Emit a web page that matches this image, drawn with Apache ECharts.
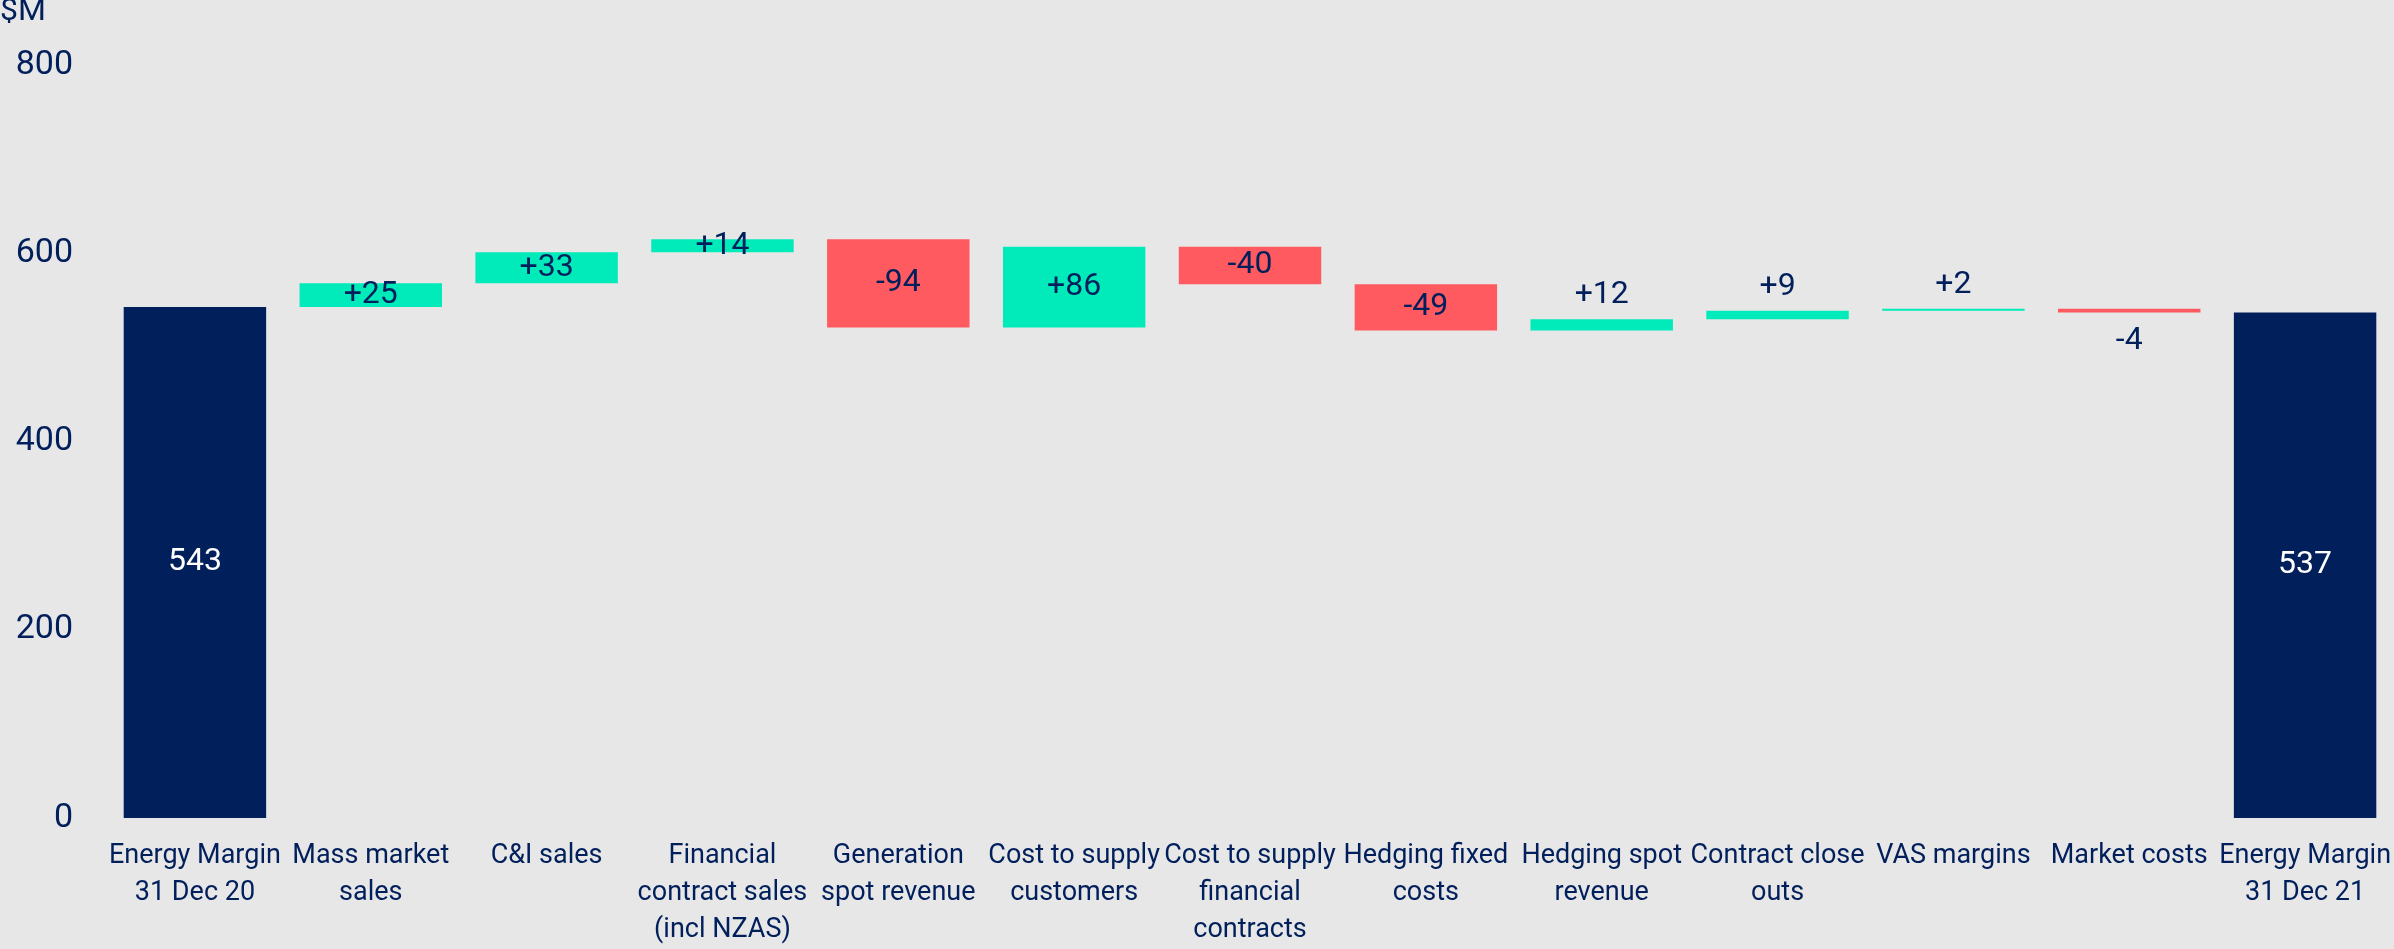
<!DOCTYPE html>
<html>
<head>
<meta charset="utf-8">
<script src="https://cdn.jsdelivr.net/npm/echarts@6/dist/echarts.min.js"></script>
<style>
  html, body { margin: 0; padding: 0; background: #e7e7e7; }
  #bridge { width: 2394px; height: 949px; }
</style>
</head>
<body>
<div id="bridge"></div>
<script>
  // data
  const categories = [
    'Energy Margin\n31 Dec 20', 'Mass market\nsales', 'C&I sales',
    'Financial\ncontract sales\n(incl NZAS)', 'Generation\nspot revenue',
    'Cost to supply\ncustomers', 'Cost to supply\nfinancial\ncontracts',
    'Hedging fixed\ncosts', 'Hedging spot\nrevenue', 'Contract close\nouts',
    'VAS margins', 'Market costs', 'Energy Margin\n31 Dec 21'
  ];
  const startTotal = 543;
  const endTotal = 537;
  const changes = [25, 33, 14, -94, 86, -40, -49, 12, 9, 2, -4];
  const yTicks = [0, 200, 400, 600, 800];

  const NAVY = '#001f5b';
  const GREEN = '#00ebb9';
  const RED = '#ff5a5f';

  // build the floating bars
  let base = [0];
  let visible = [{ value: startTotal, itemStyle: { color: NAVY },
    label: { color: '#fff', position: 'inside', formatter: String(startTotal) } }];
  let running = startTotal;
  changes.forEach(d => {
    const next = running + d;
    base.push(Math.min(running, next));
    let pos = 'inside';
    // small steps get their label outside the bar
    if (Math.abs(d) < 13) pos = d > 0 ? 'top' : 'bottom';
    visible.push({
      value: Math.abs(d),
      itemStyle: { color: d > 0 ? GREEN : RED },
      label: { position: pos, formatter: (d > 0 ? '+' : '') + d, distance: d > 0 ? 8 : 12 }
    });
    running = next;
  });
  base.push(0);
  visible.push({ value: endTotal, itemStyle: { color: NAVY },
    label: { color: '#fff', position: 'inside', formatter: String(endTotal) } });

  const chart = echarts.init(document.getElementById('bridge'));

  chart.setOption({
    backgroundColor: '#e7e7e7',
    textStyle: { fontFamily: 'Roboto' },
    animation: false,
    graphic: [{
      type: 'text', left: 0, top: -4,
      style: { text: '$M', fontSize: 32, fill: NAVY, fontFamily: 'Roboto' }
    }],
    grid: { left: 107, right: 0, top: 65, bottom: 124 },
    xAxis: {
      type: 'category',
      data: categories,
      axisLine: { show: false },
      axisTick: { show: false },
      axisLabel: { interval: 0, fontSize: 27, lineHeight: 37, color: NAVY, margin: 20 }
    },
    yAxis: {
      type: 'value',
      min: yTicks[0], max: yTicks[yTicks.length - 1], interval: 200,
      splitLine: { show: false },
      axisLine: { show: false },
      axisLabel: { fontSize: 34, color: NAVY, margin: 34 }
    },
    series: [
      {
        type: 'bar', stack: 'wf', data: base, barWidth: '81%',
        itemStyle: { color: 'transparent' }, silent: true
      },
      {
        type: 'bar', stack: 'wf', data: visible, barWidth: '81%',
        label: { show: true, fontSize: 32, color: NAVY }
      }
    ]
  });
</script>
</body>
</html>
